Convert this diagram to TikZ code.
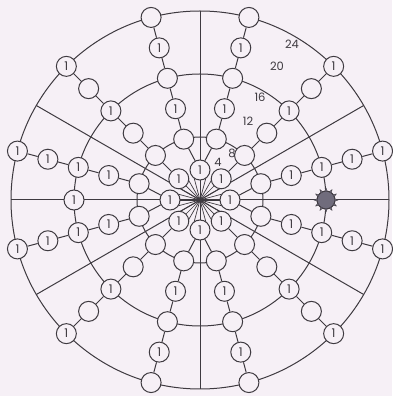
\documentclass[tikz,border=0pt]{standalone}
\usepackage{fontspec}
\setmainfont{Poppins}
\usetikzlibrary{calc}
\definecolor{bg}{RGB}{246,240,246}
\definecolor{ln}{RGB}{62,58,64}
\definecolor{gearfill}{RGB}{112,108,124}
\newcommand\mkspoke[7]{%
  \foreach \s/\r/\l in {2/63/#3,3/94.5/#4,4/126/#5,5/157.5/#6,6/189/#7}{
    \node[nd] (n#1s\s) at ($(O)+({15+30*#1}:\r)$) {\l};
  }
  \draw (c#2) -- (n#1s2);
  \draw (n#1s2) -- (n#1s3) -- (n#1s4) -- (n#1s5) -- (n#1s6);
}
\begin{document}
\begin{tikzpicture}[x=1pt,y=1pt,line width=1pt,
  every path/.style={draw=ln},
  nd/.style={circle,draw=ln,fill=bg,minimum size=20pt,inner sep=0pt,
    font=\fontsize{12}{12}\selectfont,text=ln},
  lab/.style={font=\fontsize{11.5}{11.5}\selectfont,text=ln,inner sep=0pt}]
\useasboundingbox[fill=bg,draw=none] (0,0) rectangle (392,396);
\coordinate (O) at (200,196);
% concentric rings
\foreach \r in {63,126,189} \draw (O) circle (\r);
% straight radial lines
\foreach \a in {0,30,90,150,180,210,270,330} \draw (O) -- ($(O)+(\a:189)$);
% central starburst
\foreach \a in {0,15,...,345} \draw[line width=0.7pt] (O) -- ($(O)+(\a:23)$);
% first shell
\foreach \j in {0,...,7} \node[nd] (c\j) at ($(O)+(45*\j:30)$) {1};
% spokes
\mkspoke{0}{0}{}{1}{1}{1}{1}
\mkspoke{1}{1}{}{}{1}{}{1}
\mkspoke{2}{2}{}{1}{}{1}{}
\mkspoke{3}{2}{}{1}{}{1}{}
\mkspoke{4}{3}{}{}{1}{}{1}
\mkspoke{5}{4}{}{1}{1}{1}{1}
\mkspoke{6}{4}{}{1}{1}{1}{1}
\mkspoke{7}{5}{}{}{1}{}{1}
\mkspoke{8}{6}{}{1}{}{1}{}
\mkspoke{9}{6}{}{1}{}{1}{}
\mkspoke{10}{7}{}{}{1}{}{1}
\mkspoke{11}{0}{}{1}{1}{1}{1}
% extra node on the middle ring
\node[nd] (w) at ($(O)+(180:126)$) {1};
% grey toothed node
\node[circle,draw=ln,fill=gearfill,minimum size=18pt,inner sep=0pt] (g) at ($(O)+(0:126)$) {};
\foreach \a in {0,30,...,330}
  \fill[gearfill,draw=ln,line width=0.4pt] ($(g)+(\a-9:8.6)$) -- ($(g)+(\a:12)$) -- ($(g)+(\a+9:8.6)$) -- cycle;
\node[circle,fill=gearfill,minimum size=16pt,inner sep=0pt] (gc) at (g) {};
% shell labels
\node[lab] (l4) at (218,234) {4};
\node[lab] (l8) at (232,243) {8};
\node[lab] (l12) at (248,275) {12};
\node[lab] (l16) at (260,299) {16};
\node[lab] (l20) at (277,330) {20};
\node[lab] (l24) at (292,352) {24};
\end{tikzpicture}
\end{document}
